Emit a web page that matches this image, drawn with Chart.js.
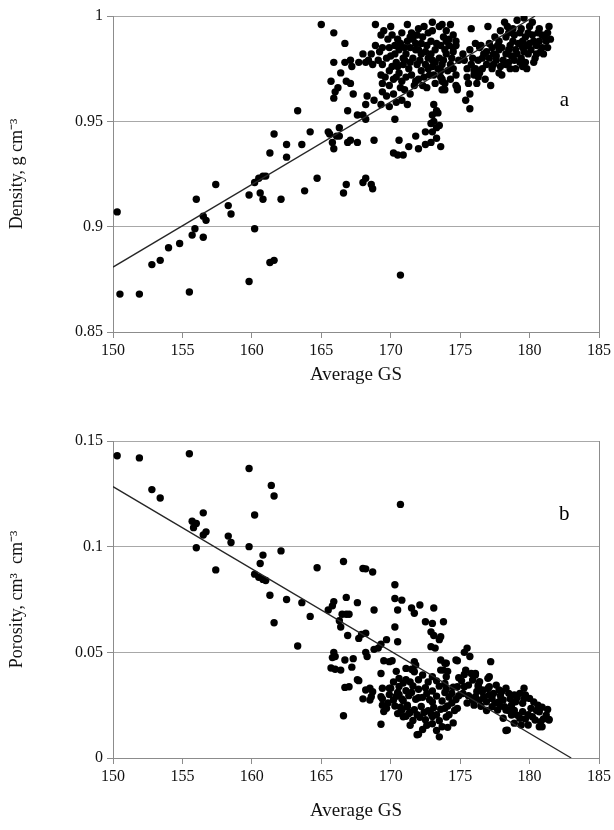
<!DOCTYPE html>
<html><head><meta charset="utf-8">
<script src="https://cdn.jsdelivr.net/npm/chart.js@4"></script>
<style>
html,body{margin:0;padding:0;background:#fff;}
#wrap{position:relative;width:614px;height:830px;overflow:hidden;}
canvas{position:absolute;left:0;}
</style></head><body>
<div id="wrap">
<canvas id="cA" width="614" height="410" style="top:0;width:614px;height:410px"></canvas>
<canvas id="cB" width="614" height="420" style="top:410px;width:614px;height:420px"></canvas>
</div>
<script>
// ---------- data ----------
const gsTicks = [150, 155, 160, 165, 170, 175, 180, 185];
const densityTicks = [0.85, 0.9, 0.95, 1];
const porosityTicks = [0, 0.05, 0.1, 0.15];

// panel a: [Average GS, Density]
const densityPoints = [
[150.3,0.907],[150.5,0.868],[151.9,0.868],[152.8,0.882],[153.4,0.884],[154.0,0.890],[154.8,0.892],[155.5,0.869],[155.7,0.896],[155.9,0.899],[156.0,0.913],[156.5,0.905],[156.7,0.903],[156.5,0.895],[157.4,0.920],[158.3,0.910],[158.5,0.906],[159.8,0.915],[159.8,0.874],[160.2,0.899],[160.2,0.921],[160.5,0.923],[160.8,0.924],[161.0,0.924],[160.6,0.916],[160.8,0.913],[161.3,0.883],[161.6,0.884],[161.3,0.935],[161.6,0.944],[162.1,0.913],[162.5,0.939],[162.5,0.933],[163.3,0.955],[163.6,0.939],[163.8,0.917],[164.2,0.945],[164.7,0.923],[165.0,0.996],[165.5,0.945],[165.8,0.940],[165.9,0.937],[166.1,0.943],[166.3,0.943],[166.3,0.947],[166.9,0.940],[167.1,0.941],[167.6,0.940],[168.8,0.941],[166.6,0.916],[166.8,0.920],[168.0,0.921],[168.2,0.923],[168.6,0.920],[168.7,0.918],[165.6,0.944],
[165.9,0.992],[166.7,0.987],[165.9,0.978],[166.7,0.978],[167.1,0.979],[167.2,0.976],[167.7,0.978],[168.0,0.982],[168.2,0.978],[168.4,0.979],[168.6,0.982],[168.7,0.977],[166.4,0.973],[165.7,0.969],[166.2,0.966],[166.0,0.964],[165.9,0.961],[166.8,0.969],[167.1,0.968],[167.3,0.963],[168.3,0.962],[168.8,0.960],[168.2,0.958],[166.9,0.955],[167.6,0.953],[168.0,0.953],[168.2,0.951],
[168.9,0.996],[169.3,0.991],[169.4,0.985],[169.9,0.985],[170.3,0.986],[171.2,0.988],[171.6,0.989],[171.8,0.987],[172.3,0.990],[172.7,0.992],[173.0,0.993],[173.5,0.995],[174.0,0.993],[174.5,0.991],[174.7,0.986],[170.6,0.984],[171.1,0.982],[171.6,0.980],[172.1,0.979],[172.5,0.977],[173.0,0.976],[170.9,0.977],[171.3,0.975],[170.6,0.973],[171.1,0.971],[171.8,0.969],[171.7,0.967],[172.4,0.971],[173.0,0.979],[173.5,0.980],[174.0,0.982],[174.5,0.983],[170.1,0.976],[169.9,0.974],[169.4,0.977],[169.3,0.972],[170.4,0.971],[169.4,0.968],[169.9,0.967],[169.4,0.964],[169.7,0.962],[170.2,0.963],[169.3,0.958],[169.9,0.957],[170.4,0.959],[170.3,0.951],
[173.1,0.958],[173.3,0.955],[173.0,0.953],[173.4,0.954],[173.1,0.950],[172.9,0.949],[173.3,0.947],[173.5,0.948],[172.5,0.945],[173.0,0.945],[173.7,0.969],[173.9,0.965],[174.7,0.972],[174.7,0.967],[173.7,0.996],[174.0,0.988],[174.7,0.988],[174.5,0.985],[173.9,0.984],[173.7,0.977],[174.3,0.977],[174.1,0.974],[173.6,0.971],[173.9,0.968],[174.8,0.965],
[175.8,0.994],[177.0,0.995],[178.2,0.997],[178.4,0.995],[178.8,0.994],[179.1,0.998],[179.6,0.999],[180.0,0.995],[180.7,0.994],[181.4,0.995],[179.3,0.992],[179.7,0.990],[180.2,0.991],[180.9,0.991],[181.2,0.988],[180.5,0.986],[180.0,0.987],[179.5,0.985],[179.0,0.984],[178.7,0.981],[178.3,0.982],[177.8,0.984],[177.3,0.985],[177.1,0.980],[177.6,0.979],[177.9,0.976],[178.3,0.977],[178.9,0.979],[179.4,0.980],[179.9,0.982],[180.5,0.982],[176.6,0.980],[176.3,0.979],[176.0,0.974],[175.9,0.980],[175.7,0.984],[174.9,0.979],[175.5,0.971],[175.7,0.963],[175.4,0.960],[175.7,0.956],[177.2,0.967],[176.1,0.987],[176.4,0.985],[176.9,0.977],[177.3,0.975],[176.4,0.973],[176.7,0.982],[178.3,0.990],[177.8,0.988],[180.7,0.988],[179.5,0.988],[175.3,0.979],[175.8,0.977],[176.1,0.975],[176.0,0.972],[175.6,0.968],[174.8,0.966],[173.7,0.965],[173.7,0.970],[176.5,0.986],
[170.2,0.935],[170.5,0.934],[170.9,0.934],[171.3,0.938],[172.0,0.937],[172.5,0.939],[172.9,0.940],[173.3,0.942],[173.6,0.938],[171.8,0.943],[170.6,0.941],[170.7,0.877],
[170.0,0.981],[170.5,0.989],[170.8,0.992],[171.4,0.985],[172.0,0.984],[172.6,0.986],[172.9,0.982],[173.3,0.987],[173.8,0.990],[171.0,0.979],[172.2,0.974],[172.8,0.972],[173.4,0.975],[170.4,0.978],[169.7,0.980],[169.2,0.983],[171.5,0.992],[172.4,0.995],[170.1,0.991],[171.9,0.977],[173.2,0.968],[172.6,0.966],[171.4,0.963],[170.8,0.960],[171.2,0.958],[170.7,0.966],
[178.6,0.986],[179.2,0.987],[180.1,0.984],[180.9,0.985],[181.3,0.992],[177.5,0.990],[177.9,0.993],[178.0,0.972],[176.8,0.970],[177.6,0.981],[178.5,0.978],[179.7,0.978],[176.2,0.968],[181.0,0.982],[179.0,0.975],
[169.8,0.989],[170.3,0.982],[170.7,0.987],[171.0,0.985],[171.4,0.990],[171.9,0.991],[172.2,0.987],[172.5,0.983],[172.9,0.988],[173.2,0.984],[173.6,0.986],[174.2,0.989],[174.4,0.980],[174.2,0.986],[173.8,0.979],[173.2,0.978],[172.7,0.980],[172.2,0.982],[171.8,0.984],[171.4,0.978],[170.9,0.980],[170.5,0.976],[170.2,0.970],[170.8,0.969],[171.5,0.972],[172.0,0.970],[172.7,0.975],[173.1,0.972],[173.6,0.974],[174.3,0.970],[174.5,0.975],[172.3,0.967],[171.0,0.965],[169.6,0.971],[169.1,0.979],[168.9,0.986],[169.5,0.993],[170.0,0.995],[172.0,0.994],[173.0,0.997],[174.3,0.996],[171.2,0.996],
[177.1,0.987],[177.4,0.982],[177.7,0.986],[178.1,0.979],[178.5,0.984],[178.8,0.988],[179.1,0.982],[179.3,0.978],[179.6,0.983],[179.8,0.986],[180.3,0.988],[180.4,0.980],[180.8,0.983],[181.1,0.990],[180.6,0.992],[180.2,0.997],[179.9,0.992],[179.4,0.994],[178.9,0.991],[178.5,0.992],[178.0,0.985],[177.4,0.977],[176.9,0.983],[176.6,0.975],[177.8,0.973],[178.6,0.975],[179.5,0.976],[176.3,0.971],[175.5,0.975],[175.2,0.982],[181.5,0.989],[181.3,0.985],[180.3,0.978],[179.8,0.975]
];

// panel b: [Average GS, Porosity]
const porosityPoints = [
[150.3,0.143],[151.9,0.142],[155.5,0.144],[152.8,0.127],[153.4,0.123],[159.8,0.137],[161.4,0.129],[161.6,0.124],[156.5,0.116],[155.7,0.112],[156.0,0.111],[155.8,0.109],[156.5,0.1055],[156.7,0.107],[156.0,0.0995],[157.4,0.089],[158.3,0.105],[158.5,0.102],[159.8,0.100],[160.2,0.115],[160.6,0.092],[160.8,0.096],[160.2,0.087],[160.5,0.0855],[160.8,0.0845],[161.0,0.084],[162.1,0.098],[161.3,0.077],[161.6,0.064],[162.5,0.075],[163.6,0.0735],[164.2,0.067],[163.3,0.053],[164.7,0.090],[166.6,0.093],[166.8,0.076],[167.6,0.0735],[168.0,0.0897],[168.2,0.0895],[168.7,0.088],[168.8,0.070],[165.5,0.070],[165.8,0.072],[165.9,0.074],[166.5,0.068],[166.8,0.068],[167.0,0.068],[166.3,0.065],[166.4,0.062],[166.9,0.058],[167.7,0.0566],[167.9,0.0585],[168.2,0.059],[168.8,0.0514],[169.1,0.052],[165.9,0.050],[166.0,0.048],[165.8,0.0475],[166.7,0.0464],[167.3,0.047],[168.2,0.050],[168.3,0.048],[165.7,0.0426],[166.0,0.042],[166.4,0.0416],[167.2,0.043],[167.6,0.037],
[170.3,0.082],[170.3,0.0755],[170.8,0.0747],[170.5,0.070],[171.5,0.071],[172.1,0.0724],[171.7,0.0685],[173.1,0.071],[172.5,0.0645],[173.0,0.0637],[173.8,0.0645],[172.9,0.0597],[173.1,0.058],[173.6,0.0574],[173.5,0.056],[172.9,0.0527],[173.2,0.052],[170.3,0.062],[170.5,0.055],[169.3,0.0538],[169.7,0.056],[170.7,0.120],
[167.0,0.0337],[166.7,0.0334],[167.7,0.0366],[168.2,0.0322],[168.5,0.033],[168.7,0.0314],[168.0,0.028],[168.5,0.0274],[168.6,0.029],[166.6,0.020],[169.3,0.016],[169.4,0.028],[169.4,0.025],[169.5,0.046],[169.9,0.0456],[170.1,0.046],[169.3,0.040],[169.9,0.033],[169.9,0.030],[170.4,0.041],[170.6,0.0377],[171.1,0.037],[171.1,0.0424],[171.5,0.042],[171.7,0.0408],[171.8,0.044],[172.3,0.0393],[173.0,0.0385],[173.6,0.0416],[173.9,0.0448],[174.1,0.041],[174.7,0.0464],
[170.6,0.0338],[171.1,0.0318],[171.6,0.0341],[172.0,0.0325],[172.5,0.0333],[173.0,0.0317],[173.5,0.034],[174.0,0.0326],[174.5,0.0335],[170.4,0.0292],[170.9,0.0271],[171.3,0.0295],[171.8,0.0278],[172.3,0.0287],[172.8,0.0276],[173.3,0.0293],[173.7,0.0270],[174.2,0.0288],[174.7,0.0277],[170.3,0.0246],[170.8,0.0226],[171.2,0.0241],[171.7,0.0229],[172.2,0.0244],[172.7,0.0224],[173.1,0.0239],[173.6,0.0231],[174.1,0.0246],[174.6,0.0225],[171.1,0.0197],[171.6,0.0178],[172.1,0.0193],[172.5,0.0181],[173.0,0.0196],[173.5,0.0176],[174.0,0.0194],[174.5,0.0166],[173.7,0.0148],[173.0,0.0162],[171.9,0.011],[173.5,0.010],[172.0,0.0112],
[175.5,0.052],[175.7,0.048],[175.3,0.050],[174.8,0.046],[177.2,0.0456],[175.4,0.0416],[175.8,0.040],[176.1,0.0393],[175.9,0.0369],[176.4,0.0361],[176.3,0.0337],[177.0,0.0377],[176.6,0.0322],[177.1,0.0337],[177.6,0.0345],[177.8,0.0322],[178.3,0.033],[178.5,0.0306],[178.9,0.0298],[179.3,0.0306],[179.7,0.0298],[180.0,0.0282],[179.5,0.0259],[179.0,0.0266],[178.7,0.025],[178.2,0.0243],[177.8,0.0266],[177.3,0.0282],[177.1,0.0298],[176.9,0.0266],[176.1,0.029],[175.9,0.0274],[176.0,0.025],[177.7,0.0227],[178.1,0.0188],[178.7,0.0203],[179.3,0.0188],[179.5,0.0219],[180.1,0.0235],[180.6,0.025],[180.7,0.0219],[181.2,0.0203],[181.4,0.018],[180.8,0.0172],[180.2,0.0195],[179.9,0.0156],[179.4,0.0156],[180.7,0.0148],[178.4,0.0132],[179.1,0.0203],[178.3,0.0227],[177.3,0.0243],
[174.8,0.0337],[175.3,0.0337],[173.9,0.0353],[174.0,0.0385],[178.3,0.013],[181.4,0.0183],[180.9,0.0148],[176.1,0.040],[177.1,0.0385],[171.7,0.0456],[171.6,0.0416],[173.6,0.0464],[174.0,0.0448],[173.8,0.0416],[169.4,0.033],[169.3,0.029],[169.5,0.022],[170.0,0.033],[170.5,0.031],[170.8,0.028],[170.7,0.024],[171.2,0.025],[171.3,0.021],[170.5,0.021],[176.3,0.0346],[176.6,0.0313],[177.0,0.0329],[176.4,0.0274],
[170.2,0.036],[170.9,0.0355],[171.4,0.036],[172.0,0.037],[172.7,0.036],[173.3,0.0365],[173.9,0.031],[174.4,0.0305],[174.9,0.0295],[172.6,0.0305],[171.5,0.031],[170.6,0.030],[172.0,0.0285],[173.0,0.0265],[174.4,0.026],[173.9,0.0235],[172.4,0.0215],[171.4,0.0215],[170.9,0.0195],[171.9,0.0205],[172.9,0.021],[173.3,0.0205],[174.2,0.0205],[174.8,0.0235],[172.6,0.0155],[171.4,0.0155],[172.3,0.0135],[173.3,0.013],[174.1,0.0145],[170.2,0.0275],[169.8,0.026],[169.7,0.0235],
[175.2,0.0305],[175.6,0.0295],[175.5,0.026],[176.7,0.029],[177.4,0.0305],[177.9,0.0295],[178.1,0.0275],[178.6,0.028],[179.1,0.0285],[179.6,0.028],[180.3,0.0265],[180.5,0.0225],[180.9,0.024],[181.3,0.023],[181.0,0.0185],[180.4,0.018],[179.9,0.0205],[179.7,0.0185],[178.9,0.0225],[178.5,0.0225],[177.9,0.0245],[177.5,0.026],[176.5,0.0245],[176.9,0.0225],[178.9,0.0165],[179.6,0.033],[178.0,0.0315],[176.2,0.0315],[175.6,0.0345],[175.1,0.0365],[174.9,0.038],[175.3,0.0395]
];

// trend lines (linear fits), endpoints in data units
const densityTrend = [[150, 0.8808], [180.4, 1.0]];
const porosityTrend = [[150, 0.1284], [183.0, 0.0]];

// ---------- rendering ----------
const SERIF = '"Liberation Serif", "Times New Roman", serif';
const GRID = '#a8a8a8';
const FRAME = '#8c8c8c';

const letterPlugin = {
  id: 'panelLetter',
  afterDatasetsDraw(chart, args, opts) {
    const {ctx, scales: {x, y}} = chart;
    ctx.save();
    ctx.font = '21px ' + SERIF;
    ctx.fillStyle = '#000';
    ctx.textAlign = 'center';
    ctx.textBaseline = 'middle';
    ctx.fillText(opts.text, x.getPixelForValue(opts.x), y.getPixelForValue(opts.y));
    ctx.restore();
  }
};

function toXY(arr) { return arr.map(p => ({x: p[0], y: p[1]})); }
function fmt(v) { return String(+Number(v).toFixed(2)); }

function makeChart(canvasId, points, trend, yTicks, yTitle, letter, pad, xAxisH) {
  const yMin = yTicks[0], yMax = yTicks[yTicks.length - 1];
  return new Chart(document.getElementById(canvasId), {
    type: 'scatter',
    data: {
      datasets: [
        {
          data: toXY(points),
          pointRadius: 3.7,
          pointHoverRadius: 3.7,
          backgroundColor: '#000',
          borderWidth: 0,
          order: 2
        },
        {
          type: 'line',
          data: toXY(trend),
          borderColor: '#262626',
          borderWidth: 1.3,
          pointRadius: 0,
          fill: false,
          order: 1
        }
      ]
    },
    options: {
      responsive: false,
      animation: false,
      events: [],
      layout: {padding: pad},
      plugins: {
        legend: {display: false},
        tooltip: {enabled: false},
        panelLetter: letter
      },
      scales: {
        x: {
          type: 'linear',
          min: gsTicks[0], max: gsTicks[gsTicks.length - 1],
          afterBuildTicks: s => { s.ticks = gsTicks.map(v => ({value: v})); },
          afterFit: s => { s.height = xAxisH; },
          ticks: {font: {family: SERIF, size: 16}, color: '#111', padding: 3, maxRotation: 0},
          grid: {
            drawOnChartArea: true,
            color: c => (c.tick && c.tick.value === gsTicks[gsTicks.length - 1]) ? FRAME : 'rgba(0,0,0,0)',
            tickColor: FRAME,
            tickLength: 6,
            lineWidth: 1
          },
          border: {display: true, color: FRAME, width: 1},
          title: {display: true, text: 'Average GS', font: {family: SERIF, size: 19}, color: '#111', padding: 0}
        },
        y: {
          type: 'linear',
          min: yMin, max: yMax,
          afterBuildTicks: s => { s.ticks = yTicks.map(v => ({value: v})); },
          afterFit: s => { s.width = 113; },
          ticks: {font: {family: SERIF, size: 16}, color: '#111', padding: 4, callback: v => fmt(v)},
          grid: {color: GRID, tickColor: FRAME, tickLength: 6, lineWidth: 1},
          border: {display: true, color: FRAME, width: 1},
          title: {display: true, text: yTitle, font: {family: SERIF, size: 18}, color: '#111', padding: {top: 6, bottom: 0}}
        }
      }
    },
    plugins: [letterPlugin]
  });
}

makeChart('cA', densityPoints, densityTrend, densityTicks, 'Density, g cm\u207B\u00B3',
  {text: 'a', x: 182.5, y: 0.960}, {left: 0, right: 14, top: 16, bottom: 24}, 54);
makeChart('cB', porosityPoints, porosityTrend, porosityTicks, 'Porosity, cm\u00B3  cm\u207B\u00B3',
  {text: 'b', x: 182.5, y: 0.115}, {left: 0, right: 14, top: 31, bottom: 8}, 64);
</script>
</body></html>
